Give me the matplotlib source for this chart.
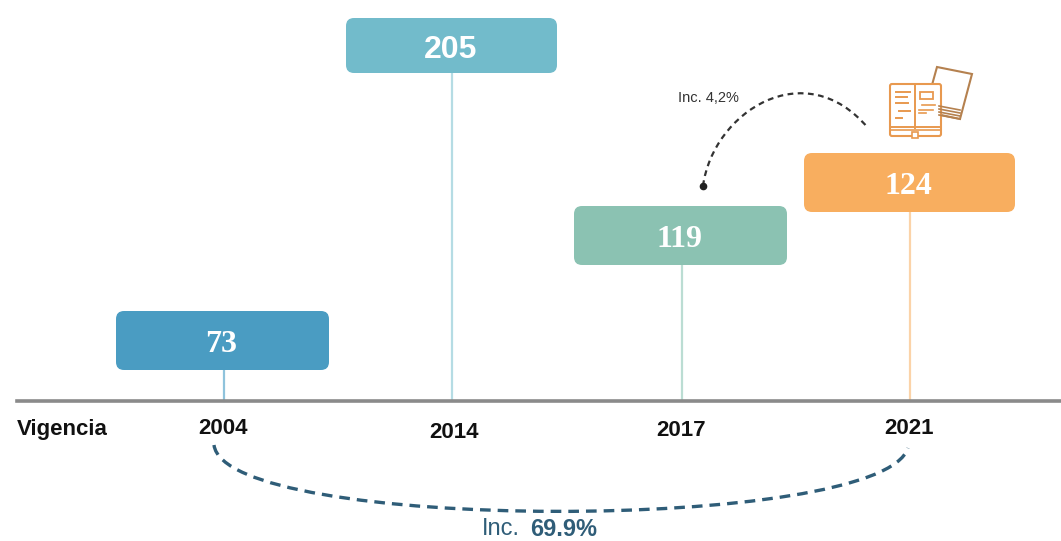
import matplotlib
matplotlib.use("Agg")
import matplotlib.pyplot as plt
from matplotlib.patches import FancyBboxPatch, PathPatch, Polygon, Rectangle
from matplotlib.path import Path

years = ["2004", "2014", "2017", "2021"]
values = [73, 205, 119, 124]
colors = ["#4A9CC2", "#72BBCB", "#8BC2B2", "#F8AE5F"]
stem_colors = ["#8FC3DC", "#B5DCE4", "#BBDDD3", "#FBD3A8"]
value_fonts = ["Liberation Serif", "Liberation Sans", "Liberation Serif", "Liberation Serif"]

# layout in pixels of the reference
stem_x = [224, 452, 682, 910]
box_left = [116, 346, 574, 804]
box_right = [329, 557, 787, 1015]
box_top = [311, 18, 206, 153]
box_bottom = [370, 73, 265, 212]
year_x = [223, 454, 681, 909]
year_y = [429, 432, 430, 429]
baseline_y = 400.5

DARK_BLUE = "#2F5D78"
ORANGE = "#E8994F"
BROWN = "#B5814F"

fig = plt.figure(figsize=(10.61, 5.41), dpi=100)
ax = fig.add_axes([0, 0, 1, 1])
ax.set_xlim(0, 1061)
ax.set_ylim(541, 0)
ax.axis("off")

for i in range(len(values)):
    ax.plot([stem_x[i], stem_x[i]], [box_bottom[i], baseline_y], color=stem_colors[i], lw=1.6, zorder=1)
    r = 8
    box = FancyBboxPatch(
        (box_left[i] + r, box_top[i] + r),
        box_right[i] - box_left[i] - 2 * r,
        box_bottom[i] - box_top[i] - 2 * r,
        boxstyle=f"round,pad={r},rounding_size={r}",
        fc=colors[i], ec="none", zorder=2,
    )
    ax.add_patch(box)
    ax.text((box_left[i] + box_right[i]) / 2 - 1, (box_top[i] + box_bottom[i]) / 2 + 4, str(values[i]),
            color="white", fontsize=23, fontweight="bold", family=value_fonts[i],
            ha="center", va="center", zorder=3)
    ax.text(year_x[i], year_y[i], years[i], color="#111111", fontsize=16, fontweight="bold",
            family="Liberation Sans", ha="center", va="center")

ax.plot([17, 1061], [baseline_y, baseline_y], color="#8A8A8A", lw=2.6, zorder=4)
ax.text(17, 429, "Vigencia", color="#111111", fontsize=16, fontweight="bold",
        family="Liberation Sans", ha="left", va="center")

# increment arcs
top_arc = Path([(703, 186), (713, 112), (805, 53), (868, 128)],
               [Path.MOVETO, Path.CURVE4, Path.CURVE4, Path.CURVE4])
ax.add_patch(PathPatch(top_arc, fc="none", ec="#333333", lw=1.6, ls=(0, (2.6, 2))))
ax.plot([703], [186], "o", color="#222222", ms=4.5)
ax.text(708, 98, "Inc. 4,2%", color="#333333", fontsize=10.5, family="Liberation Sans", ha="center", va="center")

bottom_arc = Path([(214, 445), (225, 533), (881, 533), (908, 448)],
                  [Path.MOVETO, Path.CURVE4, Path.CURVE4, Path.CURVE4])
ax.add_patch(PathPatch(bottom_arc, fc="none", ec=DARK_BLUE, lw=2.4, ls=(0, (3.2, 2.1))))
ax.text(482, 529, "Inc.", color=DARK_BLUE, fontsize=17, family="Liberation Sans", ha="left", va="center")
ax.text(530, 529, "69.9%", color=DARK_BLUE, fontsize=17, fontweight="bold", family="Liberation Sans",
        ha="left", va="center")

# book icon
ax.add_patch(Polygon([(932, 85), (937, 67), (972, 74), (960, 119), (941, 115)], closed=False,
                     fc="none", ec=BROWN, lw=1.5))
for y in [106, 109, 112, 115]:
    ax.plot([939, 960], [y, y + 4], color=BROWN, lw=1.2)
ax.add_patch(FancyBboxPatch((891, 85), 49, 50, boxstyle="round,pad=1,rounding_size=2",
                            fc="white", ec=ORANGE, lw=1.5))
ax.plot([915, 915], [85, 128], color=ORANGE, lw=1.4)
ax.plot([890, 941], [127, 127], color=ORANGE, lw=1.4)
ax.plot([890, 941], [130, 130], color=ORANGE, lw=1.2)
ax.add_patch(Rectangle((912, 132), 6, 6, fc="white", ec=ORANGE, lw=1.2, zorder=3))
for x0, x1, y in [(896, 910, 92), (896, 907, 97), (896, 908, 103), (899, 910, 111), (896, 902, 118)]:
    ax.plot([x0, x1], [y, y], color=ORANGE, lw=1.4)
ax.add_patch(Polygon([(920, 92), (933, 92), (933, 99), (920, 99)], fc="white", ec=ORANGE, lw=1.3))
for x0, x1, y in [(922, 935, 105), (919, 933, 110), (919, 926, 113)]:
    ax.plot([x0, x1], [y, y], color=ORANGE, lw=1.2)

fig.savefig("out.png", dpi=100)
